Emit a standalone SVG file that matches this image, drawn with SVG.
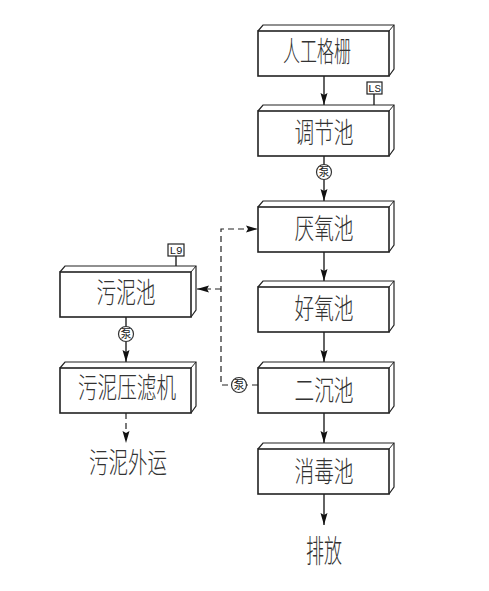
<svg xmlns="http://www.w3.org/2000/svg" width="489" height="591" viewBox="0 0 489 591">
<defs>
<marker id="ah" markerUnits="userSpaceOnUse" markerWidth="13" markerHeight="10" refX="12" refY="5" orient="auto"><path d="M0 1.5L12 5L0 8.5L2 5Z" fill="#111"/></marker>
<g id="box"><path d="M0 0L5-6H136V38L131 45" fill="#fff" stroke="#222" stroke-width="1.2"/><path d="M131 0L136-6" fill="none" stroke="#222" stroke-width="1"/><rect width="131" height="45" fill="#fff" stroke="#222" stroke-width="1.6"/></g>
<g id="pump"><circle r="7.5" fill="#fff" stroke="#333" stroke-width="1.2"/><text class="p" y="4" text-anchor="middle">泵</text></g>
</defs>
<style>
text{font-family:"Noto Sans CJK SC","Noto Sans CJK JP",sans-serif}
.t{font-size:28px;fill:#333;text-anchor:middle;font-weight:300}
.p{font-size:11px;fill:#222}
.tag{font-family:"Liberation Mono",monospace;font-size:11px;fill:#222;text-anchor:middle}
.c{fill:none;stroke:#222;stroke-width:1.4}
.a{marker-end:url(#ah)}
.d{stroke-dasharray:6 4;stroke-width:1.2}
.s{fill:#fff;stroke:#222;stroke-width:1.2}
</style>
<rect width="489" height="591" fill="#fff"/>
<g id="connectors">
<path class="c a" d="M324 75V105"/>
<path class="c a" d="M324 156V201"/>
<path class="c a" d="M324 252V281"/>
<path class="c a" d="M324 332V362"/>
<path class="c a" d="M324 413V443"/>
<path class="c a" d="M324 494V525"/>
<path class="c a" d="M126 317V362"/>
<path class="c a d" d="M126 413V443"/>
<path class="c a d" d="M258 385H221V229H258"/>
<path class="c a d" d="M221 289H197"/>
<path class="c" d="M374 94V105M176 256V267"/>
</g>
<g id="n1"><use href="#box" x="258" y="31"/><text class="t" x="317" y="62" textLength="68" lengthAdjust="spacingAndGlyphs">人工格栅</text></g>
<g id="n2"><use href="#box" x="258" y="111"/><text class="t" x="324" y="143" textLength="59" lengthAdjust="spacingAndGlyphs">调节池</text></g>
<g id="n3"><use href="#box" x="258" y="207"/><text class="t" x="324" y="239" textLength="59" lengthAdjust="spacingAndGlyphs">厌氧池</text></g>
<g id="n4"><use href="#box" x="258" y="287"/><text class="t" x="324" y="319" textLength="59" lengthAdjust="spacingAndGlyphs">好氧池</text></g>
<g id="n5"><use href="#box" x="258" y="368"/><text class="t" x="324" y="401" textLength="59" lengthAdjust="spacingAndGlyphs">二沉池</text></g>
<g id="n6"><use href="#box" x="258" y="449"/><text class="t" x="324" y="482" textLength="59" lengthAdjust="spacingAndGlyphs">消毒池</text></g>
<g id="n7"><use href="#box" x="60" y="272"/><text class="t" x="126" y="303" textLength="59" lengthAdjust="spacingAndGlyphs">污泥池</text></g>
<g id="n8"><use href="#box" x="60" y="368"/><text class="t" x="127" y="398" textLength="98" lengthAdjust="spacingAndGlyphs">污泥压滤机</text></g>
<g id="n9"><text class="t" x="128" y="473" textLength="78" lengthAdjust="spacingAndGlyphs">污泥外运</text></g>
<g id="n10"><text class="t" x="324" y="562" textLength="36" lengthAdjust="spacingAndGlyphs" style="font-size:31px">排放</text></g>
<g id="tag-ls"><rect class="s" x="367" y="82" width="15" height="12"/><text class="tag" x="374.5" y="92">LS</text></g>
<g id="tag-l9"><rect class="s" x="168" y="244" width="16" height="12"/><text class="tag" x="176" y="254">L9</text></g>
<g id="pump1"><use href="#pump" x="324" y="172"/></g>
<g id="pump2"><use href="#pump" x="126" y="334"/></g>
<g id="pump3"><use href="#pump" x="239" y="385"/></g>
</svg>
